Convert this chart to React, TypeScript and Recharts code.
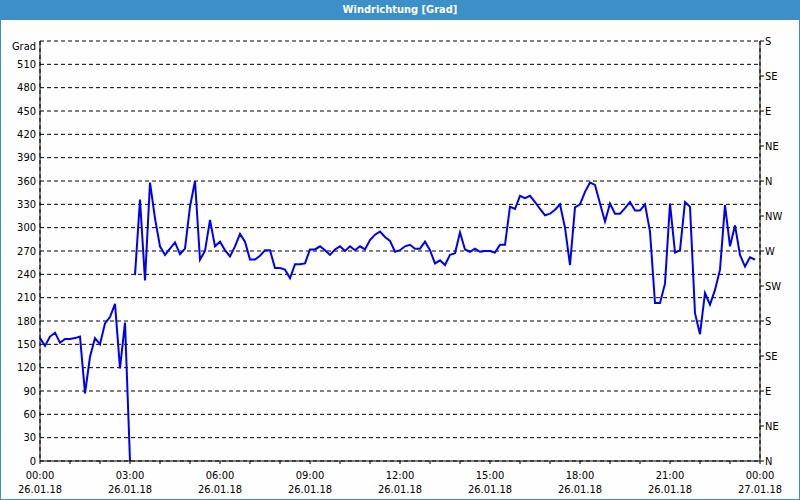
import React from "react";
import { LineChart, Line, XAxis, YAxis, CartesianGrid } from "recharts";

// 10-minute readings, 00:00 - 03:00
const nightValues = [
  158, 148, 160, 165, 152, 157, 157, 158, 160, 87, 134, 158, 150, 177, 185, 202,
  119, 178, 0,
];

// 10-minute readings, 03:10 - 23:50
const dayValues = [
  239, 336, 232, 358, 312, 276, 265, 273, 281, 266,
  273, 327, 360, 259, 270, 310, 276, 282, 271, 263,
  276, 292, 282, 259, 259, 264, 271, 271, 248, 248,
  246, 235, 253, 253, 254, 272, 272, 276, 271, 265,
  272, 276, 270, 276, 271, 276, 272, 284, 291, 295,
  288, 283, 269, 271, 276, 278, 273, 273, 282, 271,
  254, 258, 252, 265, 267, 294, 272, 269, 273, 269,
  270, 270, 268, 278, 278, 327, 324, 341, 338, 341,
  333, 324, 316, 318, 323, 330, 300, 252, 326, 330,
  346, 358, 355, 331, 308, 331, 318, 318, 325, 333,
  322, 322, 330, 295, 203, 203, 228, 331, 268, 271,
  333, 327, 190, 163, 216, 201, 220, 246, 329, 276,
  303, 265, 250, 262, 259,
];

const gapMinute = 185;
const dayStartMinute = 190;

const timeTicks = [0, 180, 360, 540, 720, 900, 1080, 1260, 1440];
const hourTicks = [
  0, 60, 120, 180, 240, 300, 360, 420, 480, 540, 600, 660, 720, 780, 840, 900,
  960, 1020, 1080, 1140, 1200, 1260, 1320, 1380, 1440,
];
const timeLabels = ["00:00", "03:00", "06:00", "09:00", "12:00", "15:00", "18:00", "21:00", "00:00"];
const dateLabels = ["26.01.18", "26.01.18", "26.01.18", "26.01.18", "26.01.18", "26.01.18", "26.01.18", "26.01.18", "27.01.18"];

const degreeTicks = [0, 30, 60, 90, 120, 150, 180, 210, 240, 270, 300, 330, 360, 390, 420, 450, 480, 510, 540];
const compassTicks = [0, 45, 90, 135, 180, 225, 270, 315, 360, 405, 450, 495, 540];
const compassLabels = ["N", "NE", "E", "SE", "S", "SW", "W", "NW", "N", "NE", "E", "SE", "S"];

const data = [
  ...nightValues.map((v, i) => ({ t: i * 10, dir: v as number | null })),
  { t: gapMinute, dir: null },
  ...dayValues.map((v, i) => ({ t: dayStartMinute + i * 10, dir: v as number | null })),
];

const FONT = "'DejaVu Sans Condensed', 'DejaVu Sans', sans-serif";
const BLUE = "#3d8fc7";

function DegreeTick({ x, y, payload }: any) {
  const isUnit = payload.value === 540;
  return (
    <text
      x={x}
      y={isUnit ? y + 5 : y}
      textAnchor="end"
      dominantBaseline="central"
      fontSize={11}
      fontFamily={FONT}
      fill="#000"
    >
      {isUnit ? "Grad" : payload.value}
    </text>
  );
}

function CompassTick({ x, y, payload }: any) {
  const label = compassLabels[Math.round(Number(payload.value) / 45)];
  return (
    <text x={x} y={y} textAnchor="start" dominantBaseline="central" fontSize={11} fontFamily={FONT} fill="#000">
      {label}
    </text>
  );
}

function TimeTick({ x, y, payload }: any) {
  if (payload.value % 180 !== 0) return <g />;
  const idx = payload.value / 180;
  return (
    <g>
      <text x={x} y={y + 11} textAnchor="middle" dominantBaseline="central" fontSize={11} fontFamily={FONT} fill="#000">
        {timeLabels[idx]}
      </text>
      <text x={x} y={y + 25} textAnchor="middle" dominantBaseline="central" fontSize={11} fontFamily={FONT} fill="#000">
        {dateLabels[idx]}
      </text>
    </g>
  );
}

export default function App() {
  return (
    <div
      style={{
        position: "absolute",
        left: 0,
        top: 0,
        width: 800,
        height: 500,
        background: "#fdfefd",
        fontFamily: FONT,
        overflow: "hidden",
      }}
    >
      <div
        style={{
          position: "absolute",
          left: 0,
          top: 0,
          width: 800,
          height: 20,
          background: BLUE,
          color: "#fff",
          fontWeight: "bold",
          fontSize: 11,
          lineHeight: "20px",
          textAlign: "center",
        }}
      >
        Windrichtung [Grad]
      </div>
      <div style={{ position: "absolute", left: 0, top: 0 }}>
        <LineChart width={800} height={500} data={data} margin={{ top: 41, right: 0, bottom: 0, left: 0 }}>
          <CartesianGrid stroke="#000" strokeDasharray="4 3" />
          <XAxis
            xAxisId={0}
            dataKey="t"
            type="number"
            domain={[0, 1440]}
            ticks={timeTicks}
            orientation="top"
            height={0}
            tick={false}
            tickLine={false}
            axisLine={{ stroke: "#000" }}
          />
          <XAxis
            xAxisId="hours"
            dataKey="t"
            type="number"
            domain={[0, 1440]}
            ticks={hourTicks}
            interval={0}
            orientation="bottom"
            height={39}
            tickSize={3}
            tickMargin={0}
            tickLine={{ stroke: "#000" }}
            axisLine={{ stroke: "#000" }}
            tick={<TimeTick />}
          />
          <YAxis
            yAxisId={0}
            type="number"
            domain={[0, 540]}
            ticks={degreeTicks}
            interval={0}
            width={40}
            tickSize={4}
            tickMargin={0}
            tickLine={false}
            axisLine={{ stroke: "#000" }}
            tick={<DegreeTick />}
          />
          <YAxis
            yAxisId="compass"
            orientation="right"
            type="number"
            domain={[0, 540]}
            ticks={compassTicks}
            interval={0}
            width={40}
            tickSize={4}
            tickMargin={1}
            tickLine={{ stroke: "#000" }}
            axisLine={{ stroke: "#000" }}
            tick={<CompassTick />}
          />
          <Line
            xAxisId={0}
            yAxisId={0}
            type="linear"
            dataKey="dir"
            stroke="#0000f0"
            strokeWidth={2}
            dot={false}
            connectNulls={false}
            isAnimationActive={false}
          />
          <Line
            xAxisId={0}
            yAxisId="compass"
            type="linear"
            dataKey="dir"
            stroke="none"
            strokeWidth={0}
            dot={false}
            activeDot={false}
            legendType="none"
            isAnimationActive={false}
          />
        </LineChart>
      </div>
      <div
        style={{
          position: "absolute",
          left: 0,
          top: 0,
          width: 800,
          height: 500,
          boxSizing: "border-box",
          borderLeft: `1px solid ${BLUE}`,
          borderRight: `1px solid ${BLUE}`,
          borderBottom: `1px solid ${BLUE}`,
          pointerEvents: "none",
        }}
      />
    </div>
  );
}
